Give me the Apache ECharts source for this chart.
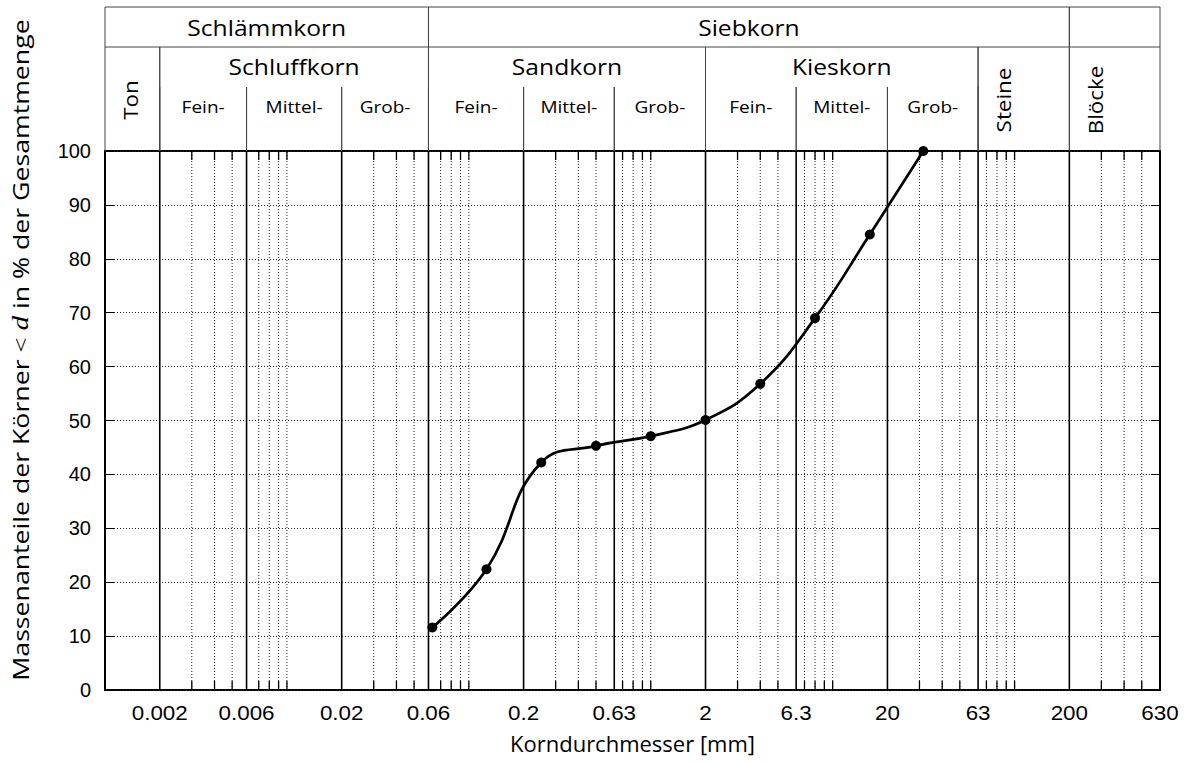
<!DOCTYPE html>
<html><head><meta charset="utf-8">
<script src="https://cdn.jsdelivr.net/npm/echarts@6/dist/echarts.min.js"></script>
<style>html,body{margin:0;padding:0;background:#fff}#c{width:1193px;height:762px}</style>
</head><body><div id="c"></div>
<script>
// ---------------- data ----------------
const sieveSizes = [0.063, 0.125, 0.25, 0.5, 1, 2, 4, 8, 16, 31.5];
const passing    = [11.6, 22.4, 42.2, 45.3, 47.1, 50.1, 56.8, 69.0, 84.5, 100];

const xTickValues = [0.002, 0.006, 0.02, 0.06, 0.2, 0.63, 2, 6.3, 20, 63, 200, 630];
const xTickLabels = ['0.002', '0.006', '0.02', '0.06', '0.2', '0.63', '2', '6.3', '20', '63', '200', '630'];
const majorLines  = [0.002, 0.006, 0.02, 0.06, 0.2, 0.63, 2, 6.3, 20, 63, 200];
const minorLines  = [0.003, 0.004, 0.005, 0.007, 0.008, 0.009, 0.01,
                     0.03, 0.04, 0.05, 0.07, 0.08, 0.09, 0.1,
                     0.3, 0.4, 0.5, 0.7, 0.8, 0.9, 1,
                     3, 4, 5, 7, 8, 9, 10,
                     30, 40, 50, 70, 80, 90, 100,
                     300, 400, 500];

// header classes (grain size limits in mm)
const row1Labels = ['Schlämmkorn', 'Siebkorn', ''];
const row1From   = [0.001, 0.06, 200];
const row1To     = [0.06, 200, 630];
const row2Labels = ['Schluffkorn', 'Sandkorn', 'Kieskorn'];
const row2From   = [0.002, 0.06, 2];
const row2To     = [0.06, 2, 63];
const row3Labels = ['Fein-', 'Mittel-', 'Grob-', 'Fein-', 'Mittel-', 'Grob-', 'Fein-', 'Mittel-', 'Grob-'];
const row3From   = [0.002, 0.006, 0.02, 0.06, 0.2, 0.63, 2, 6.3, 20];
const row3To     = [0.006, 0.02, 0.06, 0.2, 0.63, 2, 6.3, 20, 63];
const vertLabels = ['Ton', 'Steine', 'Blöcke'];
const vertFrom   = [0.001, 63, 200];
const vertTo     = [0.002, 200, 630];
const vertAt     = [0.00137, 86, 278];

const X_MIN = 0.001, X_MAX = 630;

// ---------------- styles ----------------
const SANS = '"Open Sans", "Noto Sans", sans-serif';
const TICKF = '"Liberation Sans", Arial, sans-serif';
const HLINE = {stroke: '#444', lineWidth: 1};
const R1 = 40, R2 = 80;   // header row boundaries (px from header top)
const STRETCH = 1.12;

function vline(x, y0, y1, style) {
  return {type: 'line', shape: {x1: x, y1: y0, x2: x, y2: y1}, style: style};
}
function hline(x0, x1, y, style) {
  return {type: 'line', shape: {x1: x0, y1: y, x2: x1, y2: y}, style: style};
}
function txt(x, y, s, size, rot) {
  return {type: 'text', x: x, y: y, rotation: rot || 0, scaleX: STRETCH,
    style: {text: s, fill: '#000', fontSize: size, fontFamily: SANS, align: 'center', verticalAlign: 'middle'}};
}

function headerSeries(from, to, labels, kind) {
  return {
    type: 'custom', xAxisIndex: 1, yAxisIndex: 2, silent: true,
    data: from.map((f, i) => [f, to[i]]),
    renderItem: function (params, api) {
      const cs = params.coordSys;
      const i = params.dataIndex;
      const x0 = api.coord([api.value(0), 0])[0];
      const x1 = api.coord([api.value(1), 0])[0];
      const top = cs.y, bot = cs.y + cs.height;
      const ch = [];
      if (kind === 'r1') {
        ch.push(hline(x0, x1, top, HLINE), hline(x0, x1, top + R1, HLINE));
        ch.push(vline(x0, top, top + R1, HLINE), vline(x1, top, top + R1, HLINE));
        if (labels[i]) ch.push(txt((x0 + x1) / 2, top + 21, labels[i], 22));
      } else if (kind === 'r2') {
        ch.push(vline(x0, top + R1, bot, HLINE), vline(x1, top + R1, bot, HLINE));
        ch.push(txt((x0 + x1) / 2, top + 60, labels[i], 22));
      } else if (kind === 'r3') {
        ch.push(vline(x0, top + R2, bot, HLINE), vline(x1, top + R2, bot, HLINE));
        ch.push(txt((x0 + x1) / 2, top + 99, labels[i], 17));
      } else {
        ch.push(vline(x0, top + R1, bot, HLINE), vline(x1, top + R1, bot, HLINE));
        const xa = api.coord([vertAt[i], 0])[0];
        ch.push(txt(xa, top + 93, labels[i], 20, Math.PI / 2));
      }
      return {type: 'group', children: ch};
    }
  };
}

const chart = echarts.init(document.getElementById('c'), null, {renderer: 'svg'});

const option = {
  animation: false,
  backgroundColor: '#fff',
  grid: [
    {left: 105, right: 33, top: 151, bottom: 72, show: true, borderColor: '#000', borderWidth: 2, backgroundColor: 'transparent'},
    {left: 105, right: 33, top: 7, height: 144, show: false}
  ],
  xAxis: [
    {type: 'log', logBase: 10, min: X_MIN, max: X_MAX, gridIndex: 0,
     axisLine: {show: false}, axisTick: {show: false}, axisLabel: {show: false}, splitLine: {show: false},
     name: 'Korndurchmesser [mm]', nameLocation: 'middle', nameGap: 42,
     nameTextStyle: {fontSize: 22, fontFamily: SANS, color: '#000'}},
    {type: 'log', logBase: 10, min: X_MIN, max: X_MAX, gridIndex: 1, show: false}
  ],
  yAxis: [
    {type: 'value', min: 0, max: 100, interval: 10, gridIndex: 0,
     axisLine: {show: false},
     axisTick: {show: true, inside: true, length: 9, lineStyle: {color: '#000', width: 1}},
     axisLabel: {fontSize: 20, fontFamily: TICKF, color: '#000', margin: 14},
     splitLine: {show: true, lineStyle: {color: '#222', width: 1, type: [1, 2]}}},
    {type: 'value', min: 0, max: 100, interval: 10, gridIndex: 0, position: 'right',
     axisLine: {show: false},
     axisTick: {show: true, inside: true, length: 9, lineStyle: {color: '#000', width: 1}},
     axisLabel: {show: false}, splitLine: {show: false}},
    {type: 'value', min: 0, max: 1, gridIndex: 1, show: false}
  ],
  graphic: [{
    type: 'text', x: 21, y: 350, rotation: Math.PI / 2, scaleX: 1.27,
    style: {
      text: 'Massenanteile der Körner {m|<} {i|d} in % der Gesamtmenge',
      fill: '#000', fontSize: 21, fontFamily: SANS, align: 'center', verticalAlign: 'middle',
      rich: {
        m: {fontSize: 21, fontFamily: '"Liberation Serif", serif', fill: '#000'},
        i: {fontSize: 23, fontFamily: '"Liberation Serif", serif', fontStyle: 'italic', fill: '#000'}
      }
    }
  }],
  series: [
    { // minor dotted verticals with solid ticks
      type: 'custom', xAxisIndex: 0, yAxisIndex: 0, silent: true, z: 1,
      data: minorLines.map(v => [v, 0]),
      renderItem: function (params, api) {
        const p0 = api.coord([api.value(0), 0]);
        const p1 = api.coord([api.value(0), 100]);
        const dot = {stroke: '#222', lineWidth: 1, lineDash: [1, 2]};
        const solid = {stroke: '#000', lineWidth: 1.3};
        return {type: 'group', children: [
          vline(p0[0], p0[1], p1[1], dot),
          vline(p0[0], p0[1], p0[1] - 9, solid),
          vline(p0[0], p1[1], p1[1] + 9, solid)
        ]};
      }
    },
    { // major solid verticals
      type: 'custom', xAxisIndex: 0, yAxisIndex: 0, silent: true, z: 2,
      data: majorLines.map(v => [v, 0]),
      renderItem: function (params, api) {
        const p0 = api.coord([api.value(0), 0]);
        const p1 = api.coord([api.value(0), 100]);
        return vline(p0[0], p0[1], p1[1], {stroke: '#000', lineWidth: 1.6});
      }
    },
    { // x tick labels
      type: 'custom', xAxisIndex: 0, yAxisIndex: 0, silent: true, z: 2,
      data: xTickValues.map(v => [v, 0]),
      renderItem: function (params, api) {
        const p = api.coord([api.value(0), 0]);
        return {type: 'text', x: p[0], y: p[1] + 23, scaleX: 1.12,
          style: {text: xTickLabels[params.dataIndex], fill: '#000', fontSize: 20, fontFamily: TICKF,
                  align: 'center', verticalAlign: 'middle'}};
      }
    },
    headerSeries(row1From, row1To, row1Labels, 'r1'),
    headerSeries(row2From, row2To, row2Labels, 'r2'),
    headerSeries(row3From, row3To, row3Labels, 'r3'),
    headerSeries(vertFrom, vertTo, vertLabels, 'v'),
    { // the grading curve
      type: 'line', xAxisIndex: 0, yAxisIndex: 0, z: 5,
      data: sieveSizes.map((s, i) => [s, passing[i]]),
      smooth: 0.45,
      symbol: 'circle', symbolSize: 10,
      lineStyle: {color: '#000', width: 2.7},
      itemStyle: {color: '#000'},
      clip: false
    }
  ]
};
chart.setOption(option);
</script>
</body></html>
